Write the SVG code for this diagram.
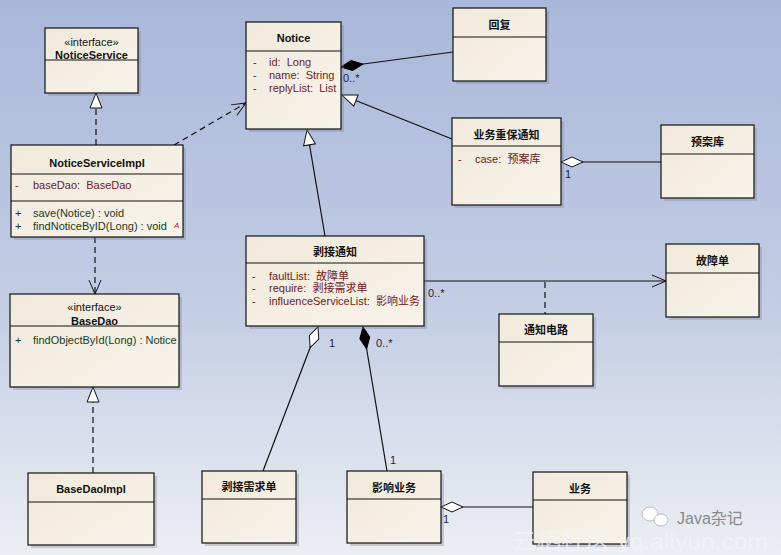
<svg xmlns="http://www.w3.org/2000/svg" width="781" height="555" viewBox="0 0 781 555">
<defs>
<linearGradient id="bg" x1="0" y1="0" x2="0" y2="1">
<stop offset="0" stop-color="#a9b8da"/>
<stop offset="0.55" stop-color="#c3cde4"/>
<stop offset="1" stop-color="#eceef3"/>
</linearGradient>
<linearGradient id="box" x1="0" y1="0" x2="1" y2="1">
<stop offset="0" stop-color="#f1eadc"/>
<stop offset="1" stop-color="#f8f3ea"/>
</linearGradient>
<marker id="tri" viewBox="0 0 18 16" refX="16" refY="7" markerWidth="18" markerHeight="16" markerUnits="userSpaceOnUse" orient="auto">
<path d="M1,1 L16,7 L1,13 z" fill="#ffffff" stroke="#111" stroke-width="1"/>
</marker>
<marker id="open" viewBox="0 0 16 14" refX="15" refY="7" markerWidth="16" markerHeight="14" markerUnits="userSpaceOnUse" orient="auto">
<path d="M1,1 L15,7 L1,13" fill="none" stroke="#111" stroke-width="1"/>
</marker>
<marker id="dfill" viewBox="0 0 24 12" refX="1" refY="6" markerWidth="24" markerHeight="12" markerUnits="userSpaceOnUse" orient="auto">
<path d="M1,6 L12,1 L23,6 L12,11 z" fill="#000" stroke="#000" stroke-width="1"/>
</marker>
<marker id="dhol" viewBox="0 0 24 12" refX="1" refY="6" markerWidth="24" markerHeight="12" markerUnits="userSpaceOnUse" orient="auto">
<path d="M1,6 L12,1 L23,6 L12,11 z" fill="#fff" stroke="#111" stroke-width="1"/>
</marker>
</defs>
<style>
.sh{fill:#7c8498;opacity:.35}
.bx{fill:url(#box);stroke:#111;stroke-width:1.2}
.dv{stroke:#111;stroke-width:1}
.t{font-family:"Liberation Sans","Noto Sans CJK SC",sans-serif;font-size:11px;font-weight:bold;fill:#111;text-anchor:middle}
.st{font-family:"Liberation Sans","Noto Sans CJK SC",sans-serif;font-size:11px;fill:#111;text-anchor:middle}
.a{font-family:"Liberation Sans","Noto Sans CJK SC",sans-serif;font-size:11px;fill:#6e1c1c;white-space:pre}
.o{font-family:"Liberation Sans","Noto Sans CJK SC",sans-serif;font-size:11px;fill:#1d3a22;white-space:pre}
.l{font-family:"Liberation Sans",sans-serif;font-size:11px;fill:#1a2440}
.ln{fill:none;stroke:#111;stroke-width:1.2}
.ds{fill:none;stroke:#111;stroke-width:1.2;stroke-dasharray:6,4}
</style>
<rect width="781" height="555" fill="url(#bg)"/>

<g id="connectors">
<line class="ds" x1="96" y1="145" x2="96" y2="93" marker-end="url(#tri)"/>
<line class="ds" x1="174" y1="145" x2="246" y2="103" marker-end="url(#open)"/>
<line class="ds" x1="95" y1="237" x2="95" y2="294" marker-end="url(#open)"/>
<line class="ds" x1="93" y1="473" x2="93" y2="387" marker-end="url(#tri)"/>
<line class="ln" x1="341" y1="67" x2="453" y2="52" marker-start="url(#dfill)"/>
<text class="l" x="343" y="82">0..*</text>
<line class="ln" x1="452" y1="139" x2="342" y2="95" marker-end="url(#tri)"/>
<line class="ln" x1="561" y1="162" x2="661" y2="162" marker-start="url(#dhol)"/>
<text class="l" x="565" y="178">1</text>
<line class="ln" x1="325" y1="236" x2="307" y2="130" marker-end="url(#tri)"/>
<line class="ln" x1="424" y1="281" x2="666" y2="281" marker-end="url(#open)"/>
<text class="l" x="428" y="297">0..*</text>
<line class="ds" x1="545" y1="282" x2="545" y2="314"/>
<line class="ln" x1="318" y1="327" x2="263" y2="471" marker-start="url(#dhol)"/>
<text class="l" x="329" y="347">1</text>
<line class="ln" x1="363" y1="327" x2="387" y2="471" marker-start="url(#dfill)"/>
<text class="l" x="376" y="347">0..*</text>
<text class="l" x="390" y="464">1</text>
<line class="ln" x1="441" y1="507" x2="533" y2="507" marker-start="url(#dhol)"/>
<text class="l" x="443" y="523">1</text>
</g>

<g id="NoticeService">
<rect class="sh" x="48" y="31" width="93" height="65"/>
<rect class="bx" x="45" y="28" width="93" height="65"/>
<line class="dv" x1="45" y1="60" x2="138" y2="60"/>
<text class="st" x="91.5" y="46">«interface»</text>
<text class="t" x="91.5" y="59">NoticeService</text>
</g>

<g id="NoticeServiceImpl">
<rect class="sh" x="14" y="148" width="172" height="92"/>
<rect class="bx" x="11" y="145" width="172" height="92"/>
<line class="dv" x1="11" y1="174" x2="183" y2="174"/>
<line class="dv" x1="11" y1="201" x2="183" y2="201"/>
<text class="t" x="97" y="167">NoticeServiceImpl</text>
<text class="a" x="15" y="189">-</text>
<text class="a" x="33" y="189">baseDao:  BaseDao</text>
<text class="o" x="15" y="217">+</text>
<text class="o" x="33" y="217">save(Notice) : void</text>
<text class="o" x="15" y="230">+</text>
<text class="o" x="33" y="230">findNoticeByID(Long) : void</text>
<text x="174" y="228" style="font-family:'Liberation Sans',sans-serif;font-size:8px;font-style:italic;fill:#b01818">A</text>
</g>

<g id="BaseDao">
<rect class="sh" x="13" y="297" width="169" height="93"/>
<rect class="bx" x="10" y="294" width="169" height="93"/>
<line class="dv" x1="10" y1="326" x2="179" y2="326"/>
<text class="st" x="94.5" y="311">«interface»</text>
<text class="t" x="94.5" y="325">BaseDao</text>
<text class="o" x="15" y="344">+</text>
<text class="o" x="33" y="344">findObjectById(Long) : Notice</text>
</g>

<g id="BaseDaoImpl">
<rect class="sh" x="31" y="476" width="126" height="72"/>
<rect class="bx" x="28" y="473" width="126" height="72"/>
<line class="dv" x1="28" y1="502" x2="154" y2="502"/>
<text class="t" x="91" y="493">BaseDaoImpl</text>
</g>

<g id="Notice">
<rect class="sh" x="249" y="25" width="95" height="107"/>
<rect class="bx" x="246" y="22" width="95" height="107"/>
<line class="dv" x1="246" y1="51" x2="341" y2="51"/>
<text class="t" x="293.5" y="42">Notice</text>
<text class="a" x="253" y="66">-</text>
<text class="a" x="269" y="66">id:  Long</text>
<text class="a" x="253" y="79">-</text>
<text class="a" x="269" y="79">name:  String</text>
<text class="a" x="253" y="92">-</text>
<text class="a" x="269" y="92">replyList:  List</text>
</g>

<g id="Reply">
<rect class="sh" x="456" y="11" width="93" height="73"/>
<rect class="bx" x="453" y="8" width="93" height="73"/>
<line class="dv" x1="453" y1="37" x2="546" y2="37"/>
<text class="t" x="499.5" y="29">回复</text>
</g>

<g id="BizNotice">
<rect class="sh" x="455" y="121" width="109" height="87"/>
<rect class="bx" x="452" y="118" width="109" height="87"/>
<line class="dv" x1="452" y1="146" x2="561" y2="146"/>
<text class="t" x="506.5" y="139">业务重保通知</text>
<text class="a" x="458" y="163">-</text>
<text class="a" x="475" y="163">case:  预案库</text>
</g>

<g id="PlanLib">
<rect class="sh" x="664" y="128" width="93" height="73"/>
<rect class="bx" x="661" y="125" width="93" height="73"/>
<line class="dv" x1="661" y1="154" x2="754" y2="154"/>
<text class="t" x="707.5" y="146">预案库</text>
</g>

<g id="StripNotice">
<rect class="sh" x="249" y="239" width="178" height="90"/>
<rect class="bx" x="246" y="236" width="178" height="90"/>
<line class="dv" x1="246" y1="263" x2="424" y2="263"/>
<text class="t" x="335" y="256">剥接通知</text>
<text class="a" x="252" y="280">-</text>
<text class="a" x="269" y="280">faultList:  故障单</text>
<text class="a" x="252" y="292">-</text>
<text class="a" x="269" y="292">require:  剥接需求单</text>
<text class="a" x="252" y="305">-</text>
<text class="a" x="269" y="305">influenceServiceList:  影响业务</text>
</g>

<g id="FaultTicket">
<rect class="sh" x="669" y="247" width="93" height="73"/>
<rect class="bx" x="666" y="244" width="93" height="73"/>
<line class="dv" x1="666" y1="273" x2="759" y2="273"/>
<text class="t" x="712.5" y="265">故障单</text>
</g>

<g id="NotifyCircuit">
<rect class="sh" x="502" y="317" width="94" height="72"/>
<rect class="bx" x="499" y="314" width="94" height="72"/>
<line class="dv" x1="499" y1="342" x2="593" y2="342"/>
<text class="t" x="546" y="334">通知电路</text>
</g>

<g id="StripRequest">
<rect class="sh" x="205" y="474" width="94" height="72"/>
<rect class="bx" x="202" y="471" width="94" height="72"/>
<line class="dv" x1="202" y1="499" x2="296" y2="499"/>
<text class="t" x="249" y="491">剥接需求单</text>
</g>

<g id="AffectedBiz">
<rect class="sh" x="350" y="474" width="94" height="72"/>
<rect class="bx" x="347" y="471" width="94" height="72"/>
<line class="dv" x1="347" y1="499" x2="441" y2="499"/>
<text class="t" x="394" y="492">影响业务</text>
</g>

<g id="Biz">
<rect class="sh" x="536" y="475" width="94" height="72"/>
<rect class="bx" x="533" y="472" width="94" height="72"/>
<line class="dv" x1="533" y1="500" x2="627" y2="500"/>
<text class="t" x="580" y="493">业务</text>
</g>

<g id="watermark">
<text x="512" y="549" textLength="256" lengthAdjust="spacingAndGlyphs" style="font-family:'Liberation Sans','Noto Sans CJK SC',sans-serif;font-size:22px;fill:#f4f5f8;opacity:.7">云栖社区 yq.aliyun.com</text>
<ellipse cx="650" cy="514" rx="8" ry="7" fill="#fff" stroke="#bbb"/>
<ellipse cx="661" cy="520" rx="7" ry="6" fill="#fff" stroke="#bbb"/>
<text x="677" y="524" style="font-family:'Liberation Sans','Noto Sans CJK SC',sans-serif;font-size:16px;fill:#8a8a8a">Java杂记</text>
</g>
</svg>
